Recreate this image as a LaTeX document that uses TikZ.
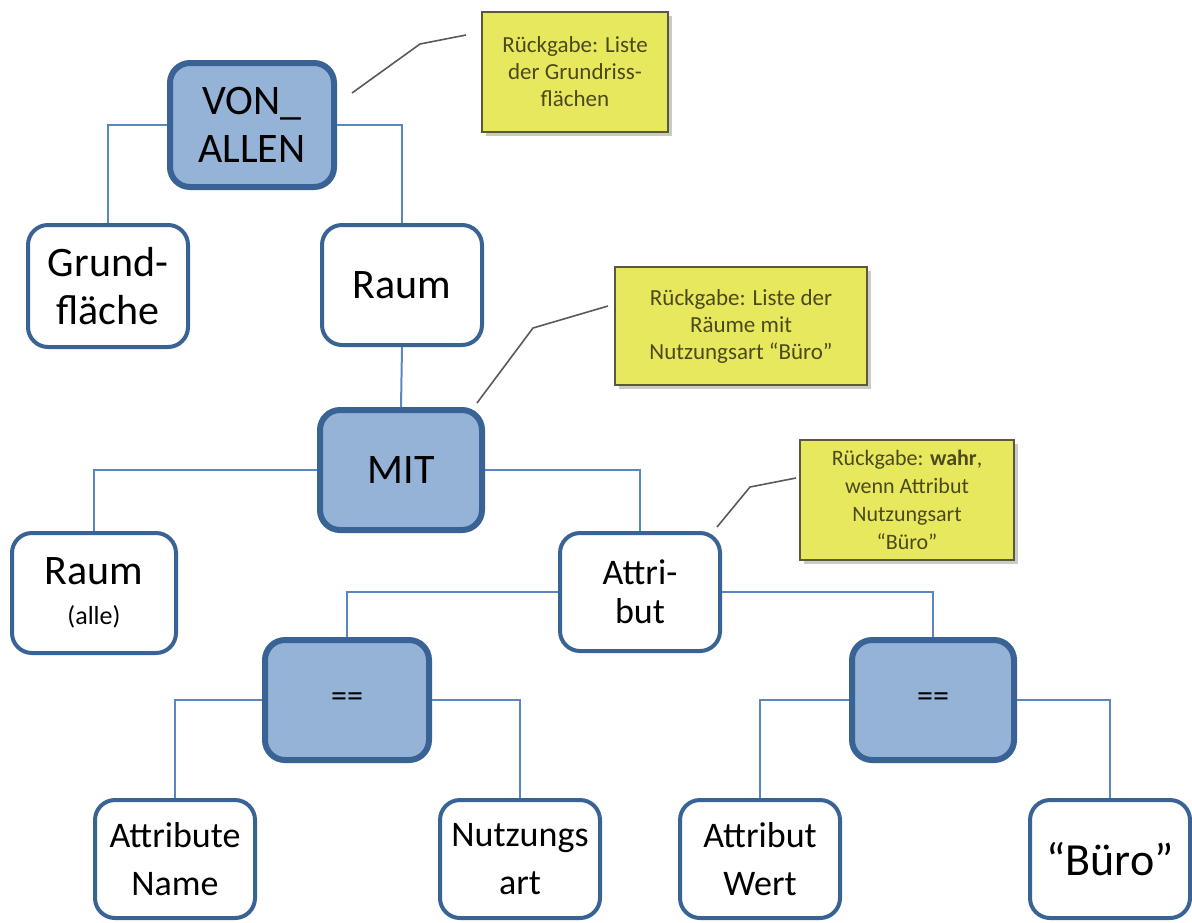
\documentclass[tikz,border=0pt]{standalone}
\usepackage{fontspec}
\setmainfont{Carlito}
\usetikzlibrary{shadows}
\definecolor{opfill}{HTML}{95B3D7}
\definecolor{boxline}{HTML}{3A6395}
\definecolor{conn}{HTML}{5B87C0}
\definecolor{callfill}{HTML}{E8E85E}
\definecolor{calldraw}{HTML}{5A5A3A}
\definecolor{calltext}{HTML}{4A4A1E}
\tikzset{
  base/.style={rectangle, rounded corners=10pt, align=center, inner sep=2pt, text=black},
  opbox/.style={base, fill=opfill, draw=boxline, line width=3pt},
  valbox/.style={base, fill=white, draw=boxline, line width=2pt},
  big/.style={font=\fontsize{21}{24}\selectfont},
  mid/.style={font=\fontsize{18}{24}\selectfont},
  link/.style={draw=conn, line width=1pt},
  callout/.style={rectangle, fill=callfill, draw=calldraw, line width=0.8pt, align=center,
    text=calltext, font=\fontsize{11.5}{13.5}\selectfont,
    drop shadow={shadow xshift=2pt, shadow yshift=-2pt, opacity=0.35, fill=black!60}},
  callline/.style={draw=black!65, line width=0.8pt}
}
\begin{document}
\begin{tikzpicture}[x=0.5pt, y=-0.5pt]
\useasboundingbox (0,0) rectangle (1192,922);
% operator nodes
\node[opbox, big, minimum width=82pt, minimum height=62pt] (von) at (252,125) {VON\_\\ALLEN};
\node[opbox, big, minimum width=81pt, minimum height=60pt] (mit) at (401,470) {MIT};
\node[opbox, font=\fontsize{16}{20}\selectfont, minimum width=82pt, minimum height=60pt] (eqa) at (347,700) {==};
\node[opbox, font=\fontsize{16}{20}\selectfont, minimum width=81pt, minimum height=60pt] (eqb) at (933,700) {==};
% value nodes
\node[valbox, big, minimum width=80pt, minimum height=61pt] (grund) at (108,286) {Grund-\\fläche};
\node[valbox, big, minimum width=80pt, minimum height=60pt] (raum) at (402,285) {Raum};
\node[valbox, big, minimum width=82pt, minimum height=60pt] (alle) at (94,593) {Raum\\[-4pt]{\fontsize{13}{15}\selectfont (alle)}};
\node[valbox, font=\fontsize{18}{19.5}\selectfont, minimum width=80pt, minimum height=59pt] (attr) at (640,592) {Attri-\\but};
\node[valbox, mid, minimum width=80pt, minimum height=59pt] (aname) at (175,859) {Attribute\\Name};
\node[valbox, mid, minimum width=80pt, minimum height=59pt] (nart) at (520,859) {Nutzungs\\art};
\node[valbox, mid, minimum width=80pt, minimum height=59pt] (awert) at (760,859) {Attribut\\Wert};
\node[valbox, font=\fontsize{23}{27}\selectfont, minimum width=80pt, minimum height=59pt] (buero) at (1110,859) {“Büro”};
% connectors
\draw[link] (von.west) -| (grund.north);
\draw[link] (von.east) -| (raum.north);
\draw[link] (raum.south) -- (mit.north);
\draw[link] (mit.west) -| (alle.north);
\draw[link] (mit.east) -| (attr.north);
\draw[link] (attr.west) -| (eqa.north);
\draw[link] (attr.east) -| (eqb.north);
\draw[link] (eqa.west) -| (aname.north);
\draw[link] (eqa.east) -| (nart.north);
\draw[link] (eqb.west) -| (awert.north);
\draw[link] (eqb.east) -| (buero.north);
% callouts
\node[callout, minimum width=93pt, minimum height=60pt] (ca) at (575,72) {Rückgabe: Liste\\der Grundriss-\\flächen};
\node[callout, minimum width=126pt, minimum height=59pt] (cb) at (741,326) {Rückgabe: Liste der\\Räume mit\\Nutzungsart “Büro”};
\node[callout, minimum width=107pt, minimum height=60pt, font=\fontsize{11}{14}\selectfont] (cc) at (907,500) {Rückgabe: \textbf{wahr},\\wenn Attribut\\Nutzungsart\\“Büro”};
\coordinate (a1) at (352,93); \coordinate (a2) at (420,44); \coordinate (a3) at (466,35);
\coordinate (b1) at (477,403); \coordinate (b2) at (533,328); \coordinate (b3) at (608,306);
\coordinate (c1) at (717,527); \coordinate (c2) at (750,487); \coordinate (c3) at (796,478);
\draw[callline] (a1) -- (a2) -- (a3);
\draw[callline] (b1) -- (b2) -- (b3);
\draw[callline] (c1) -- (c2) -- (c3);
\end{tikzpicture}
\end{document}
